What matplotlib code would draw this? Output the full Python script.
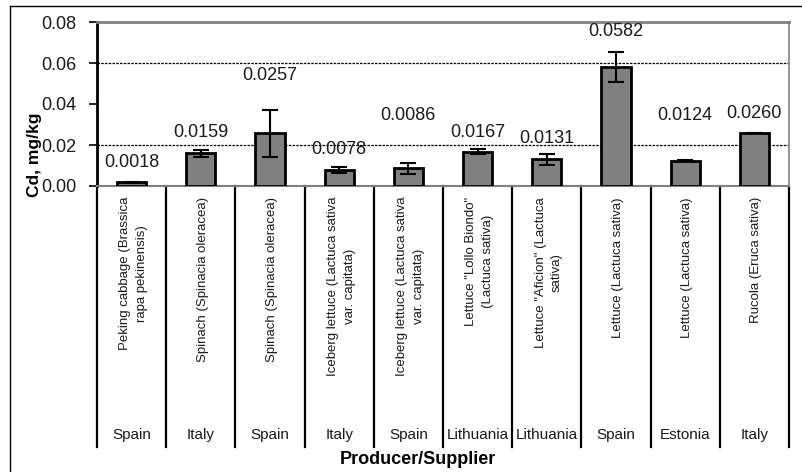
import matplotlib
matplotlib.use("Agg")
import matplotlib.pyplot as plt
from matplotlib.lines import Line2D

plt.rcParams['font.family'] = ['Liberation Sans', 'DejaVu Sans']

# Cd content in vegetables by producer/supplier
products = [
    "Peking cabbage (Brassica\nrapa pekinensis)",
    "Spinach (Spinacia oleracea)",
    "Spinach (Spinacia oleracea)",
    "Iceberg lettuce (Lactuca sativa\nvar. capitata)",
    "Iceberg lettuce (Lactuca sativa\nvar. capitata)",
    "Lettuce \"Lollo Biondo\"\n(Lactuca sativa)",
    "Lettuce \"Aficion\" (Lactuca\nsativa)",
    "Lettuce (Lactuca sativa)",
    "Lettuce (Lactuca sativa)",
    "Rucola (Eruca sativa)",
]
countries = ["Spain", "Italy", "Spain", "Italy", "Spain",
             "Lithuania", "Lithuania", "Spain", "Estonia", "Italy"]
cd_mean = [0.0018, 0.0159, 0.0257, 0.0078, 0.0086,
           0.0167, 0.0131, 0.0582, 0.0124, 0.0260]
cd_err = [0.0003, 0.0017, 0.0115, 0.0013, 0.0027,
          0.0012, 0.0027, 0.0073, 0.0004, 0.0]
yticks = [0.00, 0.02, 0.04, 0.06, 0.08]

# vertical centre of each value label (data units)
label_y = [0.0117, 0.0259, 0.0537, 0.0176, 0.0346,
           0.0263, 0.0234, 0.0756, 0.0346, 0.0356]

W, H = 802, 472
fig = plt.figure(figsize=(W / 100, H / 100), dpi=100)
ax = fig.add_axes([97 / W, 1 - 186 / H, (789 - 97) / W, (186 - 22) / H])

x = list(range(len(cd_mean)))
ax.bar(x, cd_mean, width=0.42, color="#808080", edgecolor="black",
       linewidth=2, zorder=3)
ax.errorbar(x, cd_mean, yerr=cd_err, fmt="none", ecolor="black",
            elinewidth=1.5, capsize=6, capthick=1.5, zorder=4)

for xi, v, ly in zip(x, cd_mean, label_y):
    ax.text(xi, ly, f"{v:.4f}", ha="center", va="center",
            fontsize=13, color="#1a1a1a", zorder=5)

ax.set_xlim(-0.5, len(cd_mean) - 0.5)
ax.set_ylim(0, 0.08)
ax.set_yticks(yticks)
ax.set_yticklabels([f"{t:.2f}" for t in yticks], fontsize=13, color="#1a1a1a")
ax.tick_params(axis="y", direction="out", length=6, width=1.2, pad=9)
ax.set_xticks([])

for gy in (0.02, 0.06):
    ax.axhline(gy, color="black", linewidth=0.9, linestyle=(0, (2, 1)), zorder=1)

ax.spines["left"].set_linewidth(2)
ax.spines["left"].set_color("black")
for s in ("top", "right", "bottom"):
    ax.spines[s].set_color("#808080")
ax.spines["top"].set_linewidth(2)
ax.spines["right"].set_linewidth(1.2)
ax.spines["bottom"].set_linewidth(1.5)

# category table below the axis
px = 1 / (186 - 22)
bottom_ax = (186 - 447) * px
xt = ax.get_xaxis_transform()
for b in range(len(cd_mean) + 1):
    ax.plot([b - 0.5, b - 0.5], [0, bottom_ax], transform=xt,
            color="black", linewidth=1.6, clip_on=False)

for xi, name, c in zip(x, products, countries):
    ax.text(xi + 0.03, (186 - 197) * px, name, transform=xt, rotation=90,
            ha="center", va="top", multialignment="center",
            fontsize=9.5, color="#1a1a1a", linespacing=1.5)
    ax.text(xi, (186 - 435) * px, c, transform=xt, ha="center",
            va="center", fontsize=11, color="#1a1a1a")

fig.text(418 / W, 1 - 460 / H, "Producer/Supplier", ha="center",
         va="center", fontsize=13, fontweight="bold")
fig.text(35 / W, 1 - 155 / H, "Cd, mg/kg", ha="center", va="center",
         rotation=90, fontsize=12.5, fontweight="bold")

# outer frame
fig.add_artist(Line2D([10 / W, 10 / W], [0, 1 - 6 / H], color="black",
                      linewidth=1, transform=fig.transFigure))
fig.add_artist(Line2D([10 / W, 1], [1 - 6 / H, 1 - 6 / H], color="black",
                      linewidth=1, transform=fig.transFigure))

fig.savefig("out.png", dpi=100)
